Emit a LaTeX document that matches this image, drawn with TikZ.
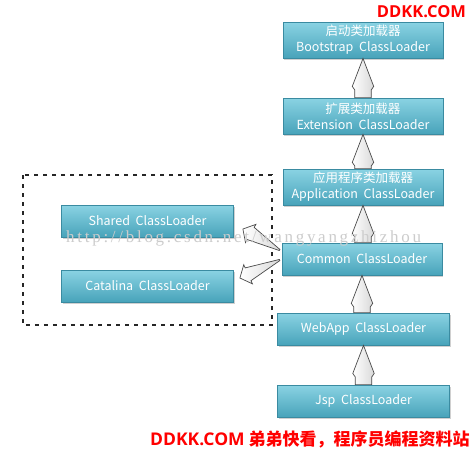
\documentclass[tikz,border=0pt]{standalone}
\usepackage{fontspec}
\setmainfont{Noto Sans CJK SC}
\newfontfamily\wmfont[LetterSpace=16]{Liberation Serif}
\newfontfamily\latinbold{Open Sans}
\usetikzlibrary{calc,shadows}
\definecolor{boxtop}{HTML}{8AD3E3}
\definecolor{boxbot}{HTML}{48A3BA}
\definecolor{boxline}{HTML}{3A8BA1}
\definecolor{arrline}{HTML}{4A4A4A}
\definecolor{ddred}{HTML}{FF0000}
\tikzset{
  loader/.style={rectangle, top color=boxtop, bottom color=boxbot, draw=boxline, line width=0.8pt,
    text=white, font=\fontsize{12.5}{16}\selectfont, align=center, inner sep=0pt,
    drop shadow={shadow xshift=1.2pt, shadow yshift=-1.5pt, opacity=0.3, fill=black!60}},
  wide/.style={minimum width=160pt},
  wider/.style={minimum width=172pt},
  twoline/.style={minimum height=36pt},
  oneline/.style={minimum height=32pt},
  barrow/.style={draw=arrline, line width=0.7pt, left color=white, right color=black!15, line join=miter},
  grp/.style={draw=black!85, line width=2pt, dash pattern=on 4pt off 5pt},
  redtxt/.style={text=ddred, inner sep=0pt},
}
\begin{document}
\begin{tikzpicture}[x=1pt,y=-1pt]
\useasboundingbox (0,0) rectangle (475,450);
\fill[white] (0,0) rectangle (475,450);
% group
\draw[grp] (23,175) rectangle (272,325);
% boxes
\node[loader,wide,twoline] (boot) at (363,40) {启动类加载器\\Bootstrap\ \ ClassLoader};
\node[loader,wide,twoline] (ext) at (363,116) {扩展类加载器\\Extension\ \ ClassLoader};
\node[loader,wide,twoline] (app) at (363,187) {应用程序类加载器\\Application\ \ ClassLoader};
\node[loader,wide,oneline] (common) at (362,259) {Common\ \ ClassLoader};
\node[loader,wider,oneline] (webapp) at (363.5,329) {WebApp\ \ ClassLoader};
\node[loader,wider,oneline] (jsp) at (363.5,401) {Jsp\ \ ClassLoader};
\node[loader,wider,oneline] (shared) at (147.5,221) {Shared\ \ ClassLoader};
\node[loader,wider,oneline] (catalina) at (147.5,286) {Catalina\ \ ClassLoader};
% vertical block arrows (tail on lower box, tip on upper box)
\foreach \lo/\up in {ext/boot, app/ext, common/app, webapp/common, jsp/webapp}{
  \draw[barrow] let \p1=(\up.south), \p2=(\lo.north) in
    (\x1,\y1) -- (\x1+10.7pt,\y1-28pt) -- (\x1+8.3pt,\y1-31.5pt) -- (\x1+8.3pt,\y2)
    -- (\x1-8.3pt,\y2) -- (\x1-8.3pt,\y1-31.5pt) -- (\x1-10.7pt,\y1-28pt) -- cycle;
}
% diagonal tapered arrows from Common to Shared / Catalina
\coordinate (ta1) at ($(common.west)+(-2,-9)$);
\coordinate (ti1) at ($(shared.east)+(9,8)$);
\coordinate (ta2) at ($(common.west)+(-2,1)$);
\coordinate (ti2) at ($(catalina.east)+(6,-8)$);
\foreach \ta/\ti in {ta1/ti1, ta2/ti2}{
  \coordinate (hb) at ($(\ti)!9pt!(\ta)$);
  \draw[barrow] ($(\ta)!0.6pt!90:(\ti)$) -- ($(hb)!7pt!-90:(\ta)$) -- ($(hb)!10.5pt!-90:(\ta)$)
    -- (\ti) -- ($(hb)!10.5pt!90:(\ta)$) -- ($(hb)!7pt!90:(\ta)$) -- ($(\ta)!0.6pt!-90:(\ti)$) -- cycle;
}
% watermark
\node[text=black!20, font=\wmfont\fontsize{17}{19}\selectfont, inner sep=0pt, anchor=base west] (wm) at (66,242) {http://blog.csdn.net/wangyangzhizhou};
% red texts
\node[redtxt, font=\latinbold\bfseries\fontsize{16.5}{18}\selectfont] (top) at (421.5,12) {DDKK.COM};
\node[redtxt, anchor=base west, font=\fontsize{17}{18}\selectfont\bfseries] (bottom) at (150,445) {{\latinbold\fontsize{17.5}{18}\selectfont DDKK.COM} 弟弟快看，程序员编程资料站};
\end{tikzpicture}
\end{document}
